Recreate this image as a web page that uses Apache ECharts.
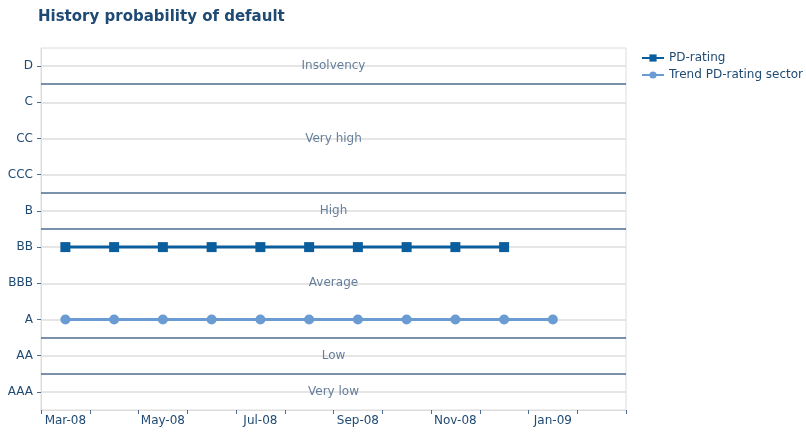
<!DOCTYPE html>
<html>
<head>
<meta charset="utf-8">
<script src="https://cdn.jsdelivr.net/npm/echarts@6/dist/echarts.min.js"></script>
<style>
    html, body { margin: 0; padding: 0; background: #fff; }
    #chart { width: 806px; height: 432px; }
</style>
</head>
<body>
<div id="chart"></div>
<script>
    // 数据
    const months = ['Mar-08', 'Apr-08', 'May-08', 'Jun-08', 'Jul-08', 'Aug-08', 'Sep-08', 'Oct-08', 'Nov-08', 'Dec-08', 'Jan-09', 'Feb-09'];
    const ratings = ['AAA', 'AA', 'A', 'BBB', 'BB', 'B', 'CCC', 'CC', 'C', 'D'];
    const pdRating = ['BB', 'BB', 'BB', 'BB', 'BB', 'BB', 'BB', 'BB', 'BB', 'BB'];
    const trendSector = ['A', 'A', 'A', 'A', 'A', 'A', 'A', 'A', 'A', 'A', 'A'];
    // 风险区间：名称，中心位置（按评级序号），分隔线位置
    const bandNames = ['Very low', 'Low', 'Average', 'High', 'Very high', 'Insolvency'];
    const bandCenters = [0.5, 1.5, 3.5, 5.5, 7.5, 9.5];
    const bandBounds = [1, 2, 5, 6, 9];

    const textColor = '#1f4a73'
        , font = 'DejaVu Sans';

    const chart = echarts.init(document.getElementById('chart'));

    const option = {
        animation: false,
        textStyle: {fontFamily: font},
        title: {
            text: 'History probability of default',
            left: 33,
            top: 5,
            textStyle: {fontSize: 15, fontWeight: 'bold', color: textColor, fontFamily: font}
        },
        legend: {
            orient: 'vertical',
            left: 636,
            top: 47,
            itemWidth: 22,
            itemHeight: 9,
            itemGap: 5,
            data: ['PD-rating', 'Trend PD-rating sector'],
            textStyle: {fontSize: 12, color: textColor, fontFamily: font}
        },
        grid: {
            left: 41,
            right: 180,
            top: 48,
            bottom: 22,
            show: true,
            borderColor: '#dcdcdc',
            borderWidth: 1
        },
        xAxis: [
            {
                type: 'category',
                data: months,
                boundaryGap: true,
                axisLine: {show: true, lineStyle: {color: '#dcdcdc'}},
                axisTick: {show: true, interval: 0, length: 4, lineStyle: {color: '#4d6d8f'}},
                axisLabel: {interval: 1, fontSize: 12, color: textColor, margin: 5},
                splitLine: {show: false}
            },
            {
                type: 'value',
                min: 0,
                max: 1,
                show: false
            }
        ],
        yAxis: [
            {
                type: 'category',
                data: ratings,
                boundaryGap: true,
                axisLine: {show: true, lineStyle: {color: '#dcdcdc'}},
                axisTick: {show: true, alignWithLabel: true, length: 4, lineStyle: {color: '#4d6d8f'}},
                axisLabel: {fontSize: 12, color: textColor, margin: 8},
                splitLine: {show: true, alignWithLabel: true, lineStyle: {color: '#dcdcdc', width: 1.5}}
            },
            {
                type: 'value',
                min: 0,
                max: 10,
                show: false,
                splitLine: {show: false}
            }
        ],
        series: [
            {
                // 区间标签和分隔线
                name: 'bands',
                type: 'scatter',
                xAxisIndex: 1,
                yAxisIndex: 1,
                silent: true,
                symbolSize: 1,
                itemStyle: {color: 'transparent'},
                data: bandCenters.map(function (y, i) {
                    return {value: [0.5, y], name: bandNames[i]};
                }),
                label: {
                    show: true,
                    position: 'inside',
                    formatter: '{b}',
                    fontSize: 12,
                    color: '#3f5f85',
                    fontFamily: font
                },
                markLine: {
                    silent: true,
                    symbol: 'none',
                    label: {show: false},
                    lineStyle: {color: '#4d6d8f', width: 1.5, type: 'solid'},
                    data: bandBounds.map(function (v) {
                        return {yAxis: v};
                    })
                },
                z: 1
            },
            {
                name: 'PD-rating',
                type: 'line',
                data: pdRating,
                symbol: 'rect',
                symbolSize: 10,
                lineStyle: {width: 3, color: '#0b5e9e'},
                itemStyle: {color: '#0b5e9e'},
                z: 3
            },
            {
                name: 'Trend PD-rating sector',
                type: 'line',
                data: trendSector,
                symbol: 'circle',
                symbolSize: 10,
                lineStyle: {width: 3, color: '#6a9bd3'},
                itemStyle: {color: '#6a9bd3'},
                z: 3
            }
        ]
    };

    chart.setOption(option);
</script>
</body>
</html>
